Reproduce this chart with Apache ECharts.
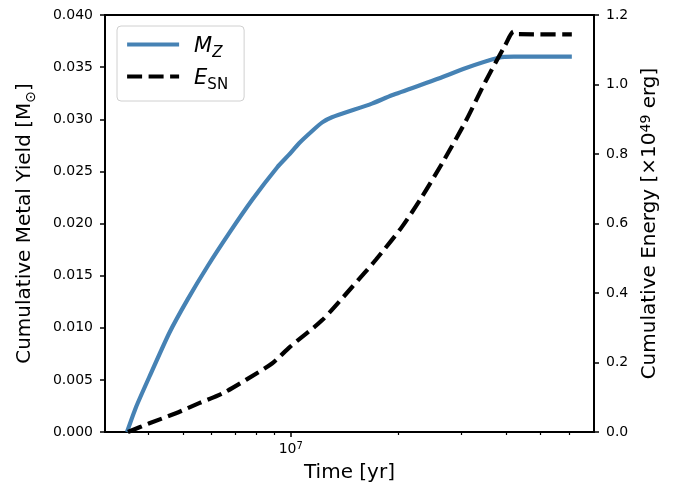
<!DOCTYPE html>
<html>
<head>
<meta charset="utf-8">
<script src="https://cdn.jsdelivr.net/npm/echarts@6/dist/echarts.min.js"></script>
<style>
html,body{margin:0;padding:0;background:#fff;}
#chart{width:694px;height:491px;}
</style>
</head>
<body>
<div id="chart"></div>
<script>
// Time values (yr) and cumulative metal yield (Msun)
const timeMz = [3.48e6, 3.69e6, 4.02e6, 4.57e6, 5.14e6, 5.85e6, 6.73e6, 7.81e6, 9.17e6, 9.89e6, 1.055e7, 1.15e7, 1.225e7, 1.304e7, 1.687e7, 1.919e7, 2.594e7, 3.08e7, 3.82e7, 4.21e7, 6.12e7];
const metalYield = [0.0, 0.0024, 0.0053, 0.0095, 0.0127, 0.0159, 0.0191, 0.0223, 0.0254, 0.0266, 0.0277, 0.0289, 0.0297, 0.0302, 0.0315, 0.0323, 0.0339, 0.0349, 0.0359, 0.0360, 0.0360];
// Time values (yr) and cumulative SN energy (1e49 erg)
const timeEsn = [3.50e6, 4.02e6, 4.77e6, 5.54e6, 6.44e6, 7.49e6, 8.88e6, 9.95e6, 1.225e7, 1.487e7, 1.728e7, 2.05e7, 2.33e7, 2.652e7, 3.083e7, 3.505e7, 3.987e7, 4.205e7, 4.34e7, 6.12e7];
const energy = [0.0, 0.025, 0.054, 0.083, 0.111, 0.150, 0.198, 0.245, 0.322, 0.418, 0.495, 0.591, 0.677, 0.773, 0.893, 1.008, 1.114, 1.152, 1.145, 1.144];
// Axis ticks
const xMajorTicks = [1e7];
const xMinorTicks = [4e6, 5e6, 6e6, 7e6, 8e6, 9e6, 2e7, 3e7, 4e7, 5e7, 6e7];
const xMin = 3.02e6, xMax = 7.06e7;

const FONT = 'DejaVu Sans';
const chart = echarts.init(document.getElementById('chart'), null, {renderer: 'canvas'});

const mzData = timeMz.map((t, i) => [t, metalYield[i]]);
const esnData = timeEsn.map((t, i) => [t, energy[i]]);

const option = {
  backgroundColor: '#fff',
  animation: false,
  textStyle: {fontFamily: FONT},
  grid: {left: 105, right: 100, top: 15, bottom: 59, show: true, borderColor: '#000', borderWidth: 2, backgroundColor: 'transparent'},
  legend: {
    left: 117, top: 26, orient: 'vertical',
    itemWidth: 52, itemHeight: 14, itemGap: 7,
    padding: [10, 16, 8, 8],
    borderColor: '#d0d0d0', borderWidth: 1, borderRadius: 4,
    backgroundColor: 'rgba(255,255,255,0.8)',
    data: [
      {name: 'M_Z', itemStyle: {opacity: 0}, lineStyle: {width: 4.2, color: '#4682b4', type: 'solid'}},
      {name: 'E_SN', itemStyle: {opacity: 0}, lineStyle: {width: 4.2, color: '#000', type: [15, 6.5]}}
    ],
    formatter: function (name) {
      return name === 'M_Z' ? '{i|M}{isub|Z}' : '{i|E}{sub|SN}';
    },
    textStyle: {
      fontFamily: FONT, fontSize: 21, color: '#000', padding: [0, 0, 0, 10],
      rich: {
        i: {fontFamily: FONT, fontSize: 21, fontStyle: 'italic', color: '#000', lineHeight: 25, verticalAlign: 'bottom'},
        isub: {fontFamily: FONT, fontSize: 15, fontStyle: 'italic', color: '#000', lineHeight: 15, verticalAlign: 'bottom', padding: [0, 0, -4, 0]},
        sub: {fontFamily: FONT, fontSize: 15, color: '#000', lineHeight: 15, verticalAlign: 'bottom', padding: [0, 0, -4, 0]}
      }
    }
  },
  xAxis: [
    {
      type: 'log', logBase: 10, min: xMin, max: xMax, gridIndex: 0, position: 'bottom',
      name: 'Time [yr]', nameLocation: 'middle', nameGap: 31,
      nameTextStyle: {fontFamily: FONT, fontSize: 20, color: '#000'},
      axisLine: {show: true, lineStyle: {color: '#000', width: 2}},
      axisTick: {show: true, length: 5, lineStyle: {color: '#000', width: 1.5}, customValues: xMajorTicks},
      axisLabel: {
        show: true, margin: 9, customValues: xMajorTicks, color: '#000',
        formatter: function (v) { return '10{sup|' + Math.round(Math.log10(v)) + '}'; },
        rich: {sup: {fontFamily: FONT, fontSize: 10, color: '#000', verticalAlign: 'top', padding: [0, 0, 6, 0]}},
        fontFamily: FONT, fontSize: 14
      },
      splitLine: {show: false}, minorTick: {show: false}, minorSplitLine: {show: false}
    },
    {
      type: 'log', logBase: 10, min: xMin, max: xMax, gridIndex: 0, position: 'bottom',
      axisLine: {show: false},
      axisTick: {show: true, length: 3, lineStyle: {color: '#000', width: 1.2}, customValues: xMinorTicks},
      axisLabel: {show: false},
      splitLine: {show: false}
    }
  ],
  yAxis: [
    {
      type: 'value', min: 0, max: 0.04, interval: 0.005, position: 'left',
      name: 'Cumulative Metal Yield [M{sub|⊙}]', nameLocation: 'middle', nameGap: 70, nameRotate: 90,
      nameTextStyle: {fontFamily: FONT, fontSize: 20, color: '#000',
        rich: {sub: {fontFamily: FONT, fontSize: 14, color: '#000', verticalAlign: 'bottom', padding: [0, 0, -3, 0]}}},
      axisLine: {show: true, lineStyle: {color: '#000', width: 2}},
      axisTick: {show: true, length: 5, lineStyle: {color: '#000', width: 1.5}},
      axisLabel: {margin: 12, color: '#000', fontFamily: FONT, fontSize: 14, formatter: v => v.toFixed(3)},
      splitLine: {show: false}
    },
    {
      type: 'value', min: 0, max: 1.2, interval: 0.2, position: 'right',
      name: 'Cumulative Energy [×10{sup|49} erg]', nameLocation: 'middle', nameGap: 45, nameRotate: 90,
      nameTextStyle: {fontFamily: FONT, fontSize: 20, color: '#000',
        rich: {sup: {fontFamily: FONT, fontSize: 14, color: '#000', verticalAlign: 'top', padding: [0, 0, 8, 0]}}},
      axisLine: {show: true, lineStyle: {color: '#000', width: 2}},
      axisTick: {show: true, length: 5, lineStyle: {color: '#000', width: 1.5}},
      axisLabel: {margin: 12, color: '#000', fontFamily: FONT, fontSize: 14, formatter: v => v.toFixed(1)},
      splitLine: {show: false}
    }
  ],
  series: [
    {
      name: 'M_Z', type: 'line', xAxisIndex: 0, yAxisIndex: 0, data: mzData,
      showSymbol: false, symbol: 'none', smooth: 0.2,
      lineStyle: {color: '#4682b4', width: 4.2},
      itemStyle: {color: '#4682b4'}
    },
    {
      name: 'E_SN', type: 'line', xAxisIndex: 0, yAxisIndex: 1, data: esnData,
      showSymbol: false, symbol: 'none', smooth: 0.25,
      lineStyle: {color: '#000', width: 4.2, type: [15, 6.5]},
      itemStyle: {color: '#000'}
    }
  ]
};
chart.setOption(option);
</script>
</body>
</html>
